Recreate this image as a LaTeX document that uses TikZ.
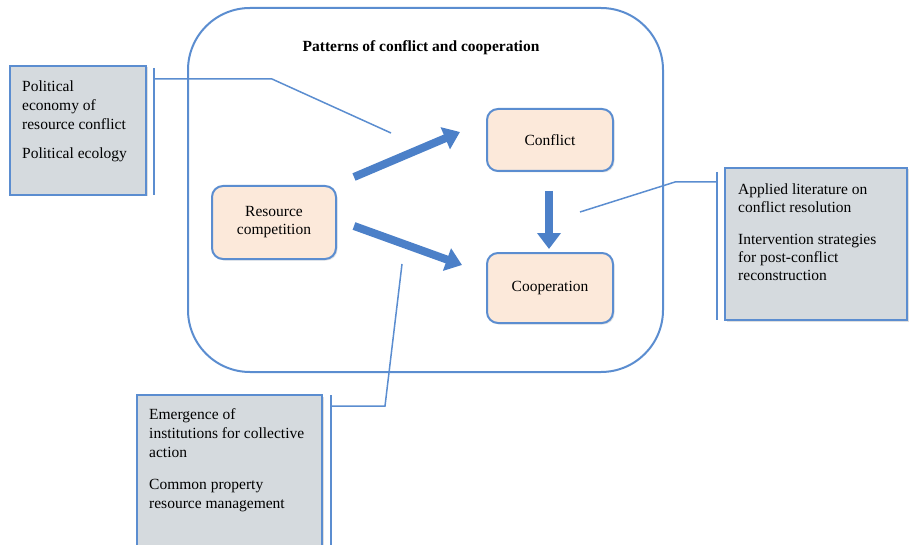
\documentclass[tikz,border=0pt]{standalone}
\usepackage{fontspec}
\setmainfont{Liberation Serif}
\usetikzlibrary{arrows.meta,shadows}
\definecolor{bord}{HTML}{5B8DD0}
\definecolor{arrowblue}{HTML}{4C80C8}
\definecolor{grayfill}{HTML}{D5DADE}
\definecolor{peach}{HTML}{FCE9DA}
\begin{document}
\begin{tikzpicture}[x=1pt,y=-1pt,
  graybox/.style={draw=bord, line width=2.5pt, fill=grayfill, drop shadow={shadow xshift=1.5pt,shadow yshift=-1.5pt,opacity=0.25}},
  peachbox/.style={draw=bord, line width=2pt, fill=peach, rounded corners=11pt, align=center, font=\fontsize{15.5}{18}\selectfont, drop shadow={shadow xshift=1.5pt,shadow yshift=-1.5pt,opacity=0.2}},
  boxtext/.style={anchor=north west, inner sep=0pt, align=left, font=\fontsize{15.5}{19}\selectfont},
  bar/.style={draw=bord, line width=2pt},
  conn/.style={draw=bord, line width=1.5pt},
  fat/.style={draw=arrowblue, line width=8pt, -{Triangle[length=16pt,width=23pt]}}]
\useasboundingbox (0,0) rectangle (909,545);
% big frame
\node[draw=bord, line width=2pt, rounded corners=62pt, minimum width=475pt, minimum height=364pt, inner sep=0pt] (frame) at (425.5,190) {};
\node[font=\bfseries\fontsize{15.5}{18}\selectfont] (title) at (421,48) {Patterns of conflict and cooperation};
% inner boxes
\node[peachbox, minimum width=124pt, minimum height=73pt] (rc) at (274,222.5) {Resource\\competition};
\node[peachbox, minimum width=126pt, minimum height=62pt] (cf) at (550,140) {Conflict};
\node[peachbox, minimum width=126pt, minimum height=70pt] (co) at (550,288) {Cooperation};
% fat arrows
\coordinate (a1s) at (354,177);
\coordinate (a1e) at (460,132);
\coordinate (a2s) at (354,226);
\coordinate (a2e) at (462,265);
\coordinate (a3s) at (549,191);
\coordinate (a3e) at (549,249);
\draw[fat] (a1s) -- (a1e);
\draw[fat] (a2s) -- (a2e);
\draw[fat] (a3s) -- (a3e);
% left gray box
\node[graybox, minimum width=136pt, minimum height=129pt, inner sep=0pt] (lb) at (78,130.5) {};
\node[boxtext] (lbt) at (22,81) {Political\\economy of\\resource conflict\\[10pt]Political ecology};
\coordinate (lbar1) at (154,68);
\coordinate (lbar2) at (154,195);
\draw[bar] (lbar1) -- (lbar2);
\coordinate (lc1) at (154,79);
\coordinate (lc2) at (272,79);
\coordinate (lc3) at (391,133);
\draw[conn] (lc1) -- (lc2) -- (lc3);
% right gray box
\node[graybox, minimum width=182pt, minimum height=152pt, inner sep=0pt] (rb) at (816,244) {};
\node[boxtext, font=\fontsize{15.5}{18}\selectfont] (rbt) at (738,184) {Applied literature on\\conflict resolution\\[14pt]Intervention strategies\\for post-conflict\\reconstruction};
\coordinate (rbar1) at (717,172);
\coordinate (rbar2) at (717,320);
\draw[bar] (rbar1) -- (rbar2);
\coordinate (rc1) at (717,182);
\coordinate (rc2) at (675,182);
\coordinate (rc3) at (580,212);
\draw[conn] (rc1) -- (rc2) -- (rc3);
% bottom gray box
\node[graybox, minimum width=185pt, minimum height=160pt, inner sep=0pt] (bb) at (229.5,475) {};
\node[boxtext] (bbt) at (149,408) {Emergence of\\institutions for collective\\action\\[13pt]Common property\\resource management};
\coordinate (bbar1) at (331,395);
\coordinate (bbar2) at (331,545);
\draw[bar] (bbar1) -- (bbar2);
\coordinate (bc1) at (331,406);
\coordinate (bc2) at (385,406);
\coordinate (bc3) at (402,264);
\draw[conn] (bc1) -- (bc2) -- (bc3);
\end{tikzpicture}
\end{document}
